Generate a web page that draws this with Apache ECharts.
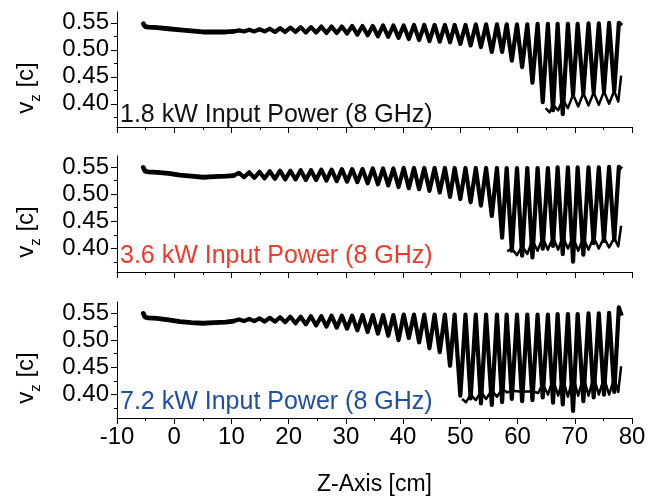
<!DOCTYPE html>
<html>
<head>
<meta charset="utf-8">
<script src="https://cdn.jsdelivr.net/npm/echarts@6/dist/echarts.min.js"></script>
<style>
  html, body { margin: 0; padding: 0; background: #fff; }
  #chart { width: 660px; height: 498px; }
</style>
</head>
<body>
<div id="chart"></div>
<script>
// z positions (cm) of the wave crests and dips, same for the three runs
var peakZ = [11.3, 13.1, 14.9, 16.7, 18.5, 20.3, 22.1, 23.9, 25.7, 27.5, 29.3, 31.1, 32.9, 34.7, 36.5, 38.3, 40.1, 41.9, 43.7, 45.5,
  47.3, 49.0, 50.9, 52.7, 54.5, 56.4, 58.1, 59.9, 61.7, 63.5, 65.3, 67.0, 68.8, 70.5, 72.4, 74.2, 76.0, 77.7];
var troughZ = [12.2, 14.0, 15.8, 17.6, 19.4, 21.2, 23.0, 24.8, 26.6, 28.4, 30.2, 32.0, 33.8, 35.6, 37.4, 39.2, 41.0, 42.8, 44.6, 46.4,
  48.2, 50.0, 51.8, 53.6, 55.5, 57.3, 59.0, 60.8, 62.6, 64.4, 66.2, 67.9, 69.7, 71.5, 73.3, 75.1, 76.9];

// smooth part at the start, before the ripples
var leadZ = [-5.4, -5.1, -4.5, -3, -1, 1, 3, 5, 7, 9, 10.4];
var leadV1 = [0.548, 0.543, 0.542, 0.541, 0.539, 0.537, 0.535, 0.533, 0.533, 0.533, 0.534];
var leadV2 = [0.549, 0.542, 0.541, 0.540, 0.538, 0.535, 0.533, 0.531, 0.532, 0.533, 0.534];
var leadV3 = [0.549, 0.542, 0.541, 0.540, 0.537, 0.534, 0.532, 0.531, 0.532, 0.533, 0.535];

// 1.8 kW
var peakV1 = [0.536, 0.537, 0.538, 0.539, 0.540, 0.541, 0.542, 0.542, 0.543, 0.543, 0.543, 0.544, 0.544, 0.544, 0.545, 0.545, 0.545, 0.546, 0.546, 0.546,
  0.546, 0.546, 0.546, 0.547, 0.547, 0.547, 0.547, 0.547, 0.547, 0.548, 0.548, 0.548, 0.548, 0.548, 0.549, 0.549, 0.550, 0.550];
var troughV1 = [0.534, 0.534, 0.534, 0.533, 0.533, 0.533, 0.532, 0.532, 0.531, 0.531, 0.530, 0.528, 0.527, 0.525, 0.524, 0.522, 0.520, 0.518, 0.516, 0.515,
  0.514, 0.511, 0.508, 0.505, 0.496, 0.496, 0.480, 0.468, 0.439, 0.403, 0.388, 0.381, 0.417, 0.420, 0.421, 0.423, 0.424];
var lowZ1 = [64.9, 65.6, 66.2, 67.1, 67.9, 68.8, 69.7, 70.6, 71.5, 72.4, 73.3, 74.2, 75.1, 76.0, 76.9, 77.6, 78.1];
var lowV1 = [0.392, 0.384, 0.398, 0.388, 0.408, 0.392, 0.417, 0.395, 0.420, 0.397, 0.421, 0.398, 0.423, 0.400, 0.424, 0.404, 0.452];

// 3.6 kW
var peakV2 = [0.539, 0.540, 0.541, 0.542, 0.543, 0.543, 0.544, 0.544, 0.545, 0.545, 0.546, 0.546, 0.546, 0.547, 0.547, 0.547, 0.548, 0.548, 0.548, 0.548,
  0.548, 0.548, 0.548, 0.548, 0.548, 0.548, 0.548, 0.548, 0.548, 0.548, 0.548, 0.549, 0.549, 0.549, 0.549, 0.549, 0.550, 0.550];
var troughV2 = [0.531, 0.530, 0.529, 0.528, 0.527, 0.527, 0.526, 0.526, 0.525, 0.524, 0.523, 0.522, 0.520, 0.518, 0.516, 0.513, 0.511, 0.509, 0.506, 0.503,
  0.495, 0.491, 0.485, 0.479, 0.460, 0.420, 0.396, 0.387, 0.384, 0.400, 0.405, 0.390, 0.376, 0.389, 0.410, 0.414, 0.416];
var lowZ2 = [58.2, 59.0, 59.9, 60.8, 61.7, 62.6, 63.5, 64.4, 65.3, 66.2, 67.1, 67.9, 68.8, 69.7, 70.6, 71.5, 72.4, 73.3, 74.2, 75.1, 76.0, 76.9, 77.6, 78.1];
var lowV2 = [0.395, 0.400, 0.388, 0.405, 0.390, 0.415, 0.396, 0.420, 0.398, 0.421, 0.398, 0.422, 0.400, 0.421, 0.396, 0.420, 0.398, 0.421, 0.400, 0.420, 0.402, 0.420, 0.404, 0.442];

// 7.2 kW
var peakV3 = [0.538, 0.539, 0.540, 0.541, 0.542, 0.543, 0.543, 0.544, 0.544, 0.545, 0.545, 0.545, 0.546, 0.546, 0.546, 0.546, 0.547, 0.547, 0.547, 0.547,
  0.547, 0.547, 0.547, 0.547, 0.547, 0.547, 0.547, 0.547, 0.547, 0.547, 0.547, 0.548, 0.548, 0.548, 0.549, 0.549, 0.550, 0.560];
var troughV3 = [0.535, 0.535, 0.534, 0.534, 0.533, 0.531, 0.529, 0.527, 0.525, 0.523, 0.521, 0.518, 0.515, 0.512, 0.508, 0.500, 0.504, 0.496, 0.485, 0.478,
  0.453, 0.398, 0.393, 0.384, 0.381, 0.386, 0.392, 0.388, 0.390, 0.395, 0.385, 0.382, 0.370, 0.388, 0.395, 0.400, 0.405];
var lowZ3 = [50.3, 51.0, 51.8, 52.7, 53.6, 54.5, 55.5, 56.4, 57.3, 58.2, 59.0, 60.8, 62.6, 63.6, 64.4, 65.3, 66.2, 67.1, 67.9, 68.8,
  69.7, 70.6, 71.5, 72.4, 73.3, 74.2, 75.1, 76.0, 76.9, 77.6, 78.1];
var lowV3 = [0.392, 0.386, 0.400, 0.390, 0.405, 0.392, 0.408, 0.396, 0.410, 0.404, 0.407, 0.405, 0.406, 0.403, 0.420, 0.400, 0.428, 0.398, 0.430, 0.396,
  0.432, 0.398, 0.433, 0.398, 0.432, 0.400, 0.430, 0.400, 0.430, 0.405, 0.452];

var endZ = 78.2;
var endV = [0.545, 0.546, 0.545];

var yLabels = [0.40, 0.45, 0.50, 0.55];
var yMinor = [0.375, 0.425, 0.475, 0.525];
var powers = ['1.8 kW Input Power (8 GHz)', '3.6 kW Input Power (8 GHz)', '7.2 kW Input Power (8 GHz)'];
var powerColors = ['#111111', '#ee3a2a', '#1e4fa5'];

var FONT = '"Liberation Sans", Arial, sans-serif';

function pairs(zs, vs) {
  var out = [];
  for (var i = 0; i < zs.length; i++) out.push([zs[i], vs[i]]);
  return out;
}
function wave(leadV, peakV, troughV, last) {
  var pts = [[leadZ[leadZ.length - 1], leadV[leadV.length - 1]]];
  for (var i = 0; i < peakZ.length; i++) {
    pts.push([peakZ[i], peakV[i]]);
    if (i < troughZ.length) pts.push([troughZ[i], troughV[i]]);
  }
  pts.push([endZ, last]);
  return pts;
}

var runs = [
  { lead: leadV1, peak: peakV1, trough: troughV1, low: pairs(lowZ1, lowV1) },
  { lead: leadV2, peak: peakV2, trough: troughV2, low: pairs(lowZ2, lowV2) },
  { lead: leadV3, peak: peakV3, trough: troughV3, low: pairs(lowZ3, lowV3) }
];

var grids = [
  { left: 117, top: 12, width: 515, height: 115 },
  { left: 117, top: 156, width: 515, height: 116 },
  { left: 117, top: 302, width: 515, height: 116 }
];
var nameY = [88, 232, 378];
var noteY = [115, 256, 402];

var xAxes = [], yAxes = [], series = [], graphic = [];
grids.forEach(function (g, i) {
  xAxes.push({
    gridIndex: i, type: 'value', min: -10, max: 80, interval: 10,
    axisLine: { onZero: false, lineStyle: { color: '#000', width: 1 } },
    axisTick: { length: 6, lineStyle: { color: '#000' } },
    minorTick: { show: true, splitNumber: 2, length: 3, lineStyle: { color: '#000' } },
    splitLine: { show: false },
    axisLabel: { show: i === 2, fontSize: 24, color: '#000', margin: 7, fontFamily: FONT },
    name: i === 2 ? 'Z-Axis [cm]' : '',
    nameLocation: 'middle', nameGap: 55,
    nameTextStyle: { fontSize: 23, color: '#000', fontFamily: FONT }
  });
  yAxes.push({
    gridIndex: i, type: 'value', min: 0.357, max: 0.570, position: 'left',
    axisLine: { show: true, onZero: false, lineStyle: { color: '#000', width: 1 } },
    axisTick: { show: true, length: 6, customValues: yLabels, lineStyle: { color: '#000' } },
    axisLabel: { customValues: yLabels, fontSize: 24, color: '#000', margin: 8, fontFamily: FONT,
      formatter: function (v) { return v.toFixed(2); } },
    splitLine: { show: false }
  });
  yAxes.push({
    gridIndex: i, type: 'value', min: 0.357, max: 0.570, position: 'left', offset: 0,
    axisLine: { show: false, onZero: false },
    axisTick: { show: true, length: 3, customValues: yMinor, lineStyle: { color: '#000' } },
    axisLabel: { show: false },
    splitLine: { show: false }
  });

  var r = runs[i];
  series.push({
    type: 'line', xAxisIndex: i, yAxisIndex: 2 * i, data: pairs(leadZ, r.lead),
    showSymbol: false, silent: true, lineStyle: { color: '#000', width: 4.8, cap: 'round' }
  });
  series.push({
    type: 'line', xAxisIndex: i, yAxisIndex: 2 * i, data: wave(r.lead, r.peak, r.trough, endV[i]),
    showSymbol: false, silent: true, lineStyle: { color: '#000', width: 4.2, join: 'round' }
  });
  series.push({
    type: 'line', xAxisIndex: i, yAxisIndex: 2 * i, data: r.low,
    showSymbol: false, silent: true, lineStyle: { color: '#000', width: 2.5, join: 'round' }
  });

  graphic.push({
    type: 'text', x: 120, y: noteY[i], z: 10,
    style: { text: powers[i], fill: powerColors[i], font: '25px ' + FONT, textVerticalAlign: 'middle' }
  });
  graphic.push({
    type: 'text', x: 29, y: nameY[i], rotation: Math.PI / 2,
    style: {
      text: '{b|v}{s|z}{b| [c]}', textAlign: 'center', textVerticalAlign: 'middle',
      rich: {
        b: { fontSize: 24, fontFamily: FONT, fill: '#000', verticalAlign: 'bottom', padding: [0, 0, 5, 0] },
        s: { fontSize: 15, fontFamily: FONT, fill: '#000', verticalAlign: 'bottom' }
      }
    }
  });
});

var chart = echarts.init(document.getElementById('chart'));
chart.setOption({
  animation: false,
  backgroundColor: '#fff',
  grid: grids,
  xAxis: xAxes,
  yAxis: yAxes,
  series: series,
  graphic: graphic
});
</script>
</body>
</html>
